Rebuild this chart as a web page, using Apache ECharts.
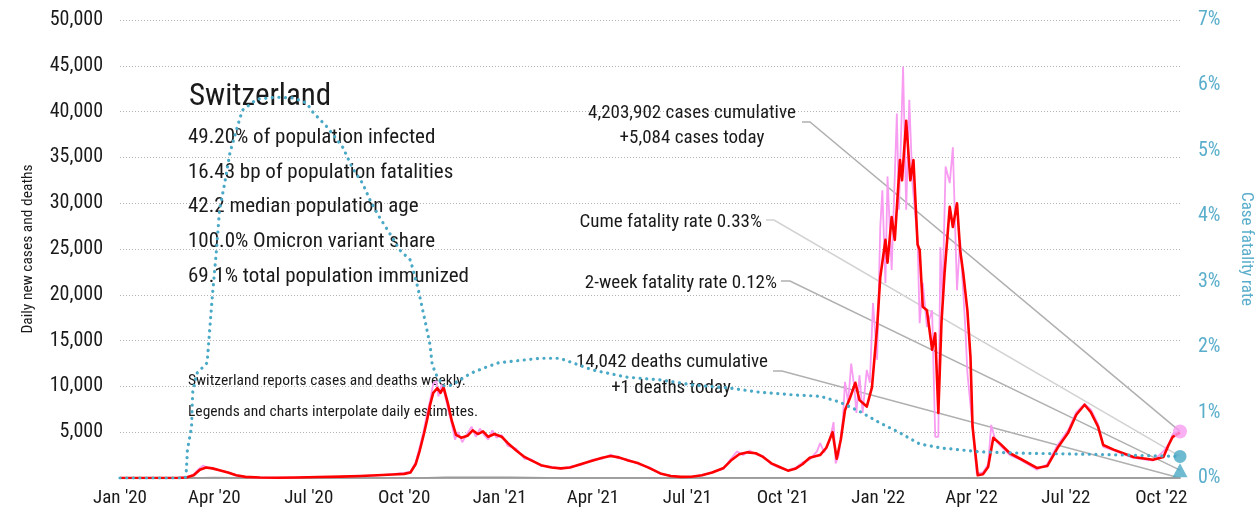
<!DOCTYPE html>
<html>
<head>
<meta charset="utf-8">
<title>Switzerland</title>
<script src="https://cdn.jsdelivr.net/npm/echarts@6/dist/echarts.min.js"></script>
<style>
  html, body { margin: 0; padding: 0; background: #fff; }
  #chart { width: 1259px; height: 517px; }
</style>
</head>
<body>
<div id="chart"></div>
<script>
// ---- Daily new cases (interpolated daily estimates) ----
const dailyDates = [
  '2020-01-01','2020-02-26','2020-03-05','2020-03-12','2020-03-17','2020-03-21','2020-03-25','2020-03-31',
  '2020-04-06','2020-04-14','2020-04-22','2020-05-01','2020-05-15','2020-06-01','2020-06-20','2020-07-10',
  '2020-08-01','2020-08-20','2020-09-05','2020-09-20','2020-10-01','2020-10-07','2020-10-12','2020-10-16',
  '2020-10-20','2020-10-23','2020-10-26','2020-10-29','2020-11-01','2020-11-03','2020-11-06','2020-11-09',
  '2020-11-12','2020-11-16','2020-11-19','2020-11-22','2020-11-26','2020-12-01','2020-12-05','2020-12-09',
  '2020-12-13','2020-12-17','2020-12-21','2020-12-25','2020-12-29','2021-01-03','2021-01-09','2021-01-17',
  '2021-01-25','2021-02-01','2021-02-10','2021-02-20','2021-03-01','2021-03-10','2021-03-20','2021-04-01',
  '2021-04-10','2021-04-18','2021-04-26','2021-05-05','2021-05-15','2021-05-25','2021-06-05','2021-06-15',
  '2021-06-25','2021-07-05','2021-07-15','2021-07-25','2021-08-05','2021-08-12','2021-08-18','2021-08-24',
  '2021-08-30','2021-09-05','2021-09-12','2021-09-20','2021-09-28','2021-10-06','2021-10-13','2021-10-20',
  '2021-10-27','2021-11-03','2021-11-06','2021-11-10','2021-11-15','2021-11-19','2021-11-21','2021-11-24',
  '2021-11-28','2021-11-30','2021-12-03','2021-12-06','2021-12-09','2021-12-11','2021-12-14','2021-12-17',
  '2021-12-21','2021-12-24','2021-12-27','2021-12-31','2022-01-03','2022-01-05','2022-01-08','2022-01-10',
  '2022-01-14','2022-01-19','2022-01-21','2022-01-25','2022-01-28','2022-01-31','2022-02-03','2022-02-08',
  '2022-02-10','2022-02-13','2022-02-17','2022-02-22','2022-02-25','2022-02-28','2022-03-02','2022-03-04',
  '2022-03-07','2022-03-11','2022-03-14','2022-03-18','2022-03-21','2022-03-26','2022-03-28','2022-04-02',
  '2022-04-06','2022-04-12','2022-04-17','2022-04-20','2022-04-24','2022-04-29','2022-05-08','2022-05-18',
  '2022-06-03','2022-06-13','2022-06-23','2022-07-03','2022-07-11','2022-07-19','2022-07-25','2022-08-01',
  '2022-08-06','2022-08-16','2022-09-04','2022-09-23','2022-10-03','2022-10-08','2022-10-12','2022-10-19'
];
const dailyCases = [
  0, 0, 80, 400, 1000, 1350, 1150, 1050,
  800, 650, 280, 100, 40, 30, 70, 120,
  160, 240, 290, 420, 550, 700, 1700, 3400,
  5300, 7000, 8500, 10300, 10600, 8900, 10200, 9200,
  7700, 5800, 4200, 5000, 3900, 4900, 5600, 4500,
  5400, 4700, 4200, 5200, 4400, 4700, 3500, 3200,
  2100, 2000, 1300, 1250, 1000, 1250, 1400, 2000,
  2100, 2550, 2150, 2000, 1500, 1200, 450, 250,
  100, 150, 280, 650, 1000, 2100, 2900, 2500,
  3000, 2600, 2400, 1500, 1100, 850, 1100, 1700,
  2000, 2900, 3800, 2800, 4000, 6100, 1600, 2500,
  6500, 10500, 8200, 12500, 9900, 7100, 11200, 7100,
  11800, 10400, 19100, 12900, 27400, 31400, 21300, 32900,
  22700, 39800, 29300, 44900, 29300, 41300, 32200, 26000,
  16900, 21300, 16500, 18300, 4500, 4500, 25200, 19400,
  34000, 32200, 36100, 20500, 26000, 16500, 11500, 5600,
  500, 600, 1500, 5800, 4100, 3500, 2500, 2000,
  900, 1500, 3600, 5200, 7200, 8100, 7500, 5900,
  3400, 3000, 2200, 1900, 2900, 3700, 4800, 5084
];

// ---- 7-day average of new cases ----
const avgDates = [
  '2020-01-01','2020-02-25','2020-03-05','2020-03-12','2020-03-18','2020-03-24','2020-03-30','2020-04-06',
  '2020-04-14','2020-04-22','2020-05-01','2020-05-15','2020-06-01','2020-06-20','2020-07-10','2020-08-01',
  '2020-08-20','2020-09-05','2020-09-20','2020-10-01','2020-10-07','2020-10-12','2020-10-16','2020-10-20',
  '2020-10-23','2020-10-26','2020-10-29','2020-11-02','2020-11-05','2020-11-08','2020-11-12','2020-11-16',
  '2020-11-20','2020-11-25','2020-12-01','2020-12-06','2020-12-11','2020-12-16','2020-12-21','2020-12-27',
  '2021-01-03','2021-01-09','2021-01-17','2021-01-25','2021-02-01','2021-02-10','2021-02-20','2021-03-01',
  '2021-03-10','2021-03-20','2021-04-01','2021-04-10','2021-04-18','2021-04-26','2021-05-05','2021-05-15',
  '2021-05-25','2021-06-05','2021-06-15','2021-06-25','2021-07-05','2021-07-15','2021-07-25','2021-08-05',
  '2021-08-12','2021-08-20','2021-08-28','2021-09-05','2021-09-12','2021-09-20','2021-09-28','2021-10-06',
  '2021-10-13','2021-10-20','2021-10-27','2021-11-06','2021-11-12','2021-11-18','2021-11-22','2021-11-26',
  '2021-11-30','2021-12-05','2021-12-10','2021-12-14','2021-12-21','2021-12-26','2021-12-31','2022-01-03',
  '2022-01-08','2022-01-10','2022-01-14','2022-01-17','2022-01-22','2022-01-24','2022-01-28','2022-02-01',
  '2022-02-04','2022-02-08','2022-02-10','2022-02-13','2022-02-17','2022-02-22','2022-02-25','2022-02-28',
  '2022-03-03','2022-03-06','2022-03-11','2022-03-14','2022-03-18','2022-03-21','2022-03-24','2022-03-28',
  '2022-03-31','2022-04-02','2022-04-07','2022-04-12','2022-04-17','2022-04-22','2022-04-29','2022-05-08',
  '2022-05-18','2022-06-03','2022-06-13','2022-06-23','2022-07-03','2022-07-11','2022-07-19','2022-07-25',
  '2022-08-01','2022-08-06','2022-08-16','2022-09-04','2022-09-23','2022-10-03','2022-10-08','2022-10-12',
  '2022-10-19'
];
const avgCases = [
  0, 0, 60, 300, 900, 1150, 1050, 850,
  600, 300, 120, 50, 30, 60, 110, 150,
  220, 300, 380, 450, 600, 1500, 3000, 4800,
  6300, 8000, 9300, 9800, 9300, 9900, 8200, 6200,
  4700, 4400, 4600, 5200, 4800, 5100, 4500, 4800,
  4500, 3800, 3000, 2300, 1900, 1400, 1150, 1050,
  1150, 1500, 1900, 2200, 2400, 2250, 1900, 1600,
  1100, 500, 220, 120, 130, 300, 600, 1100,
  1900, 2600, 2800, 2700, 2300, 1600, 1200, 800,
  1000, 1500, 2200, 2500, 3300, 5000, 2100, 4200,
  7400, 8800, 10400, 8500, 7800, 9900, 16500, 21900,
  26000, 23500, 28500, 26000, 34700, 32500, 39000, 32500,
  34700, 25500, 24900, 18700, 18300, 14000, 15800, 7100,
  16900, 22400, 29600, 27400, 30000, 24900, 22400, 18300,
  13200, 5600, 300, 400, 1200, 4400, 3700, 2700,
  2100, 1100, 1300, 3300, 4900, 6900, 8000, 7200,
  5600, 3600, 3100, 2300, 2000, 2300, 3600, 4500,
  4950
];

// ---- Daily new deaths ----
const deathDates = [
  '2020-01-01','2020-03-10','2020-04-01','2020-04-20','2020-05-15','2020-07-01','2020-10-15','2020-11-10',
  '2020-12-10','2021-01-10','2021-02-15','2021-04-15','2021-07-01','2021-09-10','2021-12-15','2022-02-01',
  '2022-04-15','2022-07-20','2022-10-19'
];
const deathCounts = [0, 5, 60, 40, 5, 1, 10, 90, 95, 70, 20, 10, 2, 20, 30, 25, 10, 8, 1];

// ---- Case fatality rate (%) ----
const cfrDates = [
  '2020-01-01','2020-03-04','2020-03-05','2020-03-06','2020-03-10','2020-03-11','2020-03-15','2020-03-25',
  '2020-03-30','2020-04-03','2020-04-06','2020-04-11','2020-04-16','2020-04-23','2020-04-28','2020-05-12',
  '2020-05-31','2020-06-16','2020-06-29','2020-07-05','2020-07-19','2020-08-03','2020-08-12','2020-08-22',
  '2020-08-29','2020-09-07','2020-09-17','2020-09-27','2020-10-07','2020-10-14','2020-10-21','2020-10-26',
  '2020-10-28','2020-11-02','2020-11-08','2020-11-14','2020-11-21','2020-12-04','2020-12-20','2020-12-31',
  '2021-02-09','2021-02-28','2021-04-01','2021-05-04','2021-06-05','2021-07-07','2021-08-08','2021-09-09',
  '2021-10-11','2021-11-06','2021-11-25','2021-12-15','2022-01-03','2022-01-22','2022-02-10','2022-03-02',
  '2022-03-21','2022-04-09','2022-05-18','2022-08-03','2022-10-19'
];
const cfrValues = [
  0, 0, 0.12, 0.43, 0.78, 1.30, 1.60, 1.76,
  2.77, 3.48, 4.10, 4.51, 4.97, 5.36, 5.62, 5.79,
  5.82, 5.81, 5.73, 5.59, 5.36, 5.05, 4.74, 4.50,
  4.25, 3.99, 3.74, 3.48, 3.33, 2.92, 2.41, 2.03,
  1.73, 1.54, 1.41, 1.41, 1.47, 1.60, 1.70, 1.76,
  1.83, 1.83, 1.65, 1.54, 1.50, 1.42, 1.38, 1.31,
  1.27, 1.25, 1.16, 1.01, 0.84, 0.69, 0.52, 0.46,
  0.43, 0.40, 0.38, 0.36, 0.33
];

// ---- Latest figures ----
const twoWeekFatalityRate = 0.12;
const statLines = [
  '49.20% of population infected',
  '16.43 bp of population fatalities',
  '42.2 median population age',
  '100.0% Omicron variant share',
  '69.1% total population immunized'
];
const noteLines = [
  'Switzerland reports cases and deaths weekly.',
  'Legends and charts interpolate daily estimates.'
];
const monthNames = ['Jan','Feb','Mar','Apr','May','Jun','Jul','Aug','Sep','Oct','Nov','Dec'];
const quarterTicks = [
  '2020-01-01','2020-04-01','2020-07-01','2020-10-01','2021-01-01','2021-04-01','2021-07-01','2021-10-01',
  '2022-01-01','2022-04-01','2022-07-01','2022-10-01'
];
const axisStart = '2020-01-01';
const axisEnd = '2022-10-19';

const FONT = '"Liberation Sans Narrow", "Roboto Condensed", "DejaVu Sans Condensed", sans-serif';
const INK = '#1a1a1a';
const PINK = '#f79cf0';
const RED = '#ff0000';
const TEAL = '#4aa9c6';
const TEAL_LABEL = '#5aaecb';

// 'YYYY-MM-DD' -> local midnight timestamp
const ts = s => { const [y, m, d] = s.split('-').map(Number); return new Date(y, m - 1, d).getTime(); };
const pairs = (d, v) => d.map((x, i) => [ts(x), v[i]]);
const lastDate = ts(dailyDates[dailyDates.length - 1]);
const lastCases = dailyCases[dailyCases.length - 1];
const lastCfr = cfrValues[cfrValues.length - 1];
const fmt = n => n.toLocaleString('en-US');

const chart = echarts.init(document.getElementById('chart'), null, { renderer: 'canvas' });

chart.setOption({
  animation: false,
  backgroundColor: '#ffffff',
  grid: { left: 120, right: 79, top: 20, bottom: 39, containLabel: false, outerBoundsMode: 'none' },
  xAxis: {
    type: 'value',
    min: ts(axisStart),
    max: ts(axisEnd),
    axisLine: { show: true, onZero: false, lineStyle: { color: '#a8a8a8', width: 2 } },
    axisTick: { show: false },
    splitLine: { show: false },
    axisLabel: {
      customValues: quarterTicks.map(ts),
      formatter: v => { const d = new Date(v); return monthNames[d.getMonth()] + " '" + String(d.getFullYear()).slice(2); },
      color: INK, fontFamily: FONT, fontSize: 19, margin: 11, hideOverlap: false
    }
  },
  yAxis: [
    {
      type: 'value', min: 0, max: 50000, interval: 5000,
      name: 'Daily new cases and deaths',
      nameLocation: 'middle', nameRotate: 90, nameGap: 84,
      nameTextStyle: { color: INK, fontFamily: FONT, fontSize: 15.5 },
      axisLine: { show: false }, axisTick: { show: false },
      axisLabel: {
        formatter: v => v === 0 ? '' : fmt(v),
        color: INK, fontFamily: FONT, fontSize: 20, margin: 17
      },
      splitLine: { show: true, lineStyle: { color: '#b4b4b4', width: 1, type: [1, 2] } }
    },
    {
      type: 'value', min: 0, max: 7, interval: 1, position: 'right',
      name: 'Case fatality rate',
      nameLocation: 'middle', nameRotate: -90, nameGap: 58,
      nameTextStyle: { color: TEAL_LABEL, fontFamily: FONT, fontSize: 17 },
      axisLine: { show: false }, axisTick: { show: false },
      axisLabel: { formatter: v => v + '%', color: TEAL_LABEL, fontFamily: FONT, fontSize: 20, margin: 18 },
      splitLine: { show: false }
    }
  ],
  series: [
    {
      name: 'Daily deaths', type: 'line', yAxisIndex: 0, showSymbol: false, z: 1,
      data: pairs(deathDates, deathCounts),
      lineStyle: { color: '#9a9a9a', width: 1.5 }
    },
    {
      name: 'Daily cases', type: 'line', yAxisIndex: 0, showSymbol: false, z: 2,
      data: pairs(dailyDates, dailyCases),
      lineStyle: { color: PINK, width: 1.8 }
    },
    {
      name: '7-day average', type: 'line', yAxisIndex: 0, showSymbol: false, z: 3,
      data: pairs(avgDates, avgCases),
      lineStyle: { color: RED, width: 2.6, join: 'round' }
    },
    {
      name: 'Case fatality rate', type: 'line', yAxisIndex: 1, showSymbol: false, z: 4,
      data: pairs(cfrDates, cfrValues),
      lineStyle: { color: TEAL, width: 3.2, type: [0.1, 6.5], cap: 'round' }
    },
    {
      name: 'Latest cases', type: 'scatter', yAxisIndex: 0, z: 6,
      symbol: 'circle', symbolSize: 14,
      itemStyle: { color: PINK },
      data: [[lastDate, lastCases]]
    },
    {
      name: 'Latest cume rate', type: 'scatter', yAxisIndex: 1, z: 6,
      symbol: 'circle', symbolSize: 13,
      itemStyle: { color: TEAL },
      data: [[lastDate, lastCfr]]
    },
    {
      name: 'Latest 2-week rate', type: 'scatter', yAxisIndex: 1, z: 6,
      symbol: 'triangle', symbolSize: [15, 14],
      itemStyle: { color: TEAL },
      data: [[lastDate, twoWeekFatalityRate]]
    }
  ]
});

// Text panel and leader lines pointing at the latest values
function textEl(x, y, text, size, align) {
  return {
    type: 'text', x: x, y: y, z: 1, silent: true,
    style: {
      text: text, fill: INK, font: size + 'px ' + FONT,
      align: align, verticalAlign: 'middle',
      textAlign: align, textVerticalAlign: 'middle'
    }
  };
}
function leader(x0, y0, x1, pt, color) {
  return {
    type: 'polyline', z: 1, silent: true,
    shape: { points: [[x0, y0], [x1, y0], pt] },
    style: { stroke: color, lineWidth: 1.5, fill: null }
  };
}

const ptCases = chart.convertToPixel({ xAxisIndex: 0, yAxisIndex: 0 }, [lastDate, lastCases]);
const ptCume = chart.convertToPixel({ xAxisIndex: 0, yAxisIndex: 1 }, [lastDate, lastCfr]);
const ptTwoWeek = chart.convertToPixel({ xAxisIndex: 0, yAxisIndex: 1 }, [lastDate, twoWeekFatalityRate]);
const ptDeaths = chart.convertToPixel({ xAxisIndex: 0, yAxisIndex: 0 }, [lastDate, 0]);

const elements = [
  textEl(189, 97, 'Switzerland', 31, 'left'),
  ...statLines.map((t, i) => textEl(188, 138 + i * 34.6, t, 21, 'left')),
  ...noteLines.map((t, i) => textEl(188, 381 + i * 31, t, 15.5, 'left')),
  textEl(692, 113, '4,203,902 cases cumulative', 19, 'center'),
  textEl(692, 138, '+' + fmt(lastCases) + ' cases today', 19, 'center'),
  textEl(762, 222, 'Cume fatality rate ' + lastCfr.toFixed(2) + '%', 19, 'right'),
  textEl(777, 283, '2-week fatality rate ' + twoWeekFatalityRate.toFixed(2) + '%', 19, 'right'),
  textEl(672, 362, '14,042 deaths cumulative', 19, 'center'),
  textEl(671, 388, '+1 deaths today', 19, 'center'),
  leader(802, 122, 810, ptCases, '#b0b0b0'),
  leader(766, 220, 774, ptCume, '#d2d2d2'),
  leader(781, 281, 790, ptTwoWeek, '#b0b0b0'),
  leader(773, 371, 782, ptDeaths, '#b0b0b0')
];
chart.setOption({ graphic: { elements: elements } });
</script>
</body>
</html>
